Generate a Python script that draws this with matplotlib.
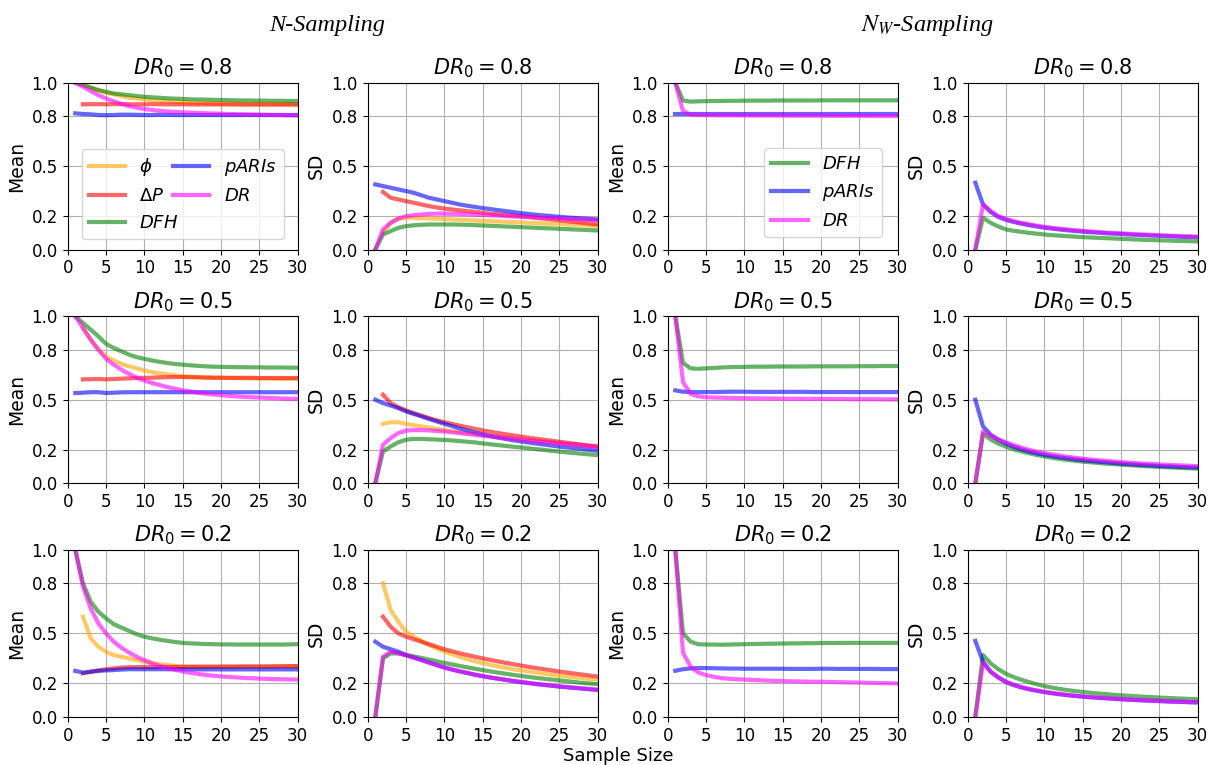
import numpy as np
import matplotlib
matplotlib.use("Agg")
import matplotlib.pyplot as plt

nan = np.nan
sample_size = list(range(1, 31))

# ---------------- N-Sampling ----------------
# DR0 = 0.8
n08_mean_phi = [nan, 0.99, 0.97, 0.955, 0.94, 0.93, 0.92, 0.91, 0.905, 0.90, 0.895, 0.89, 0.888, 0.885, 0.883,
                0.88, 0.879, 0.878, 0.877, 0.876, 0.875, 0.875, 0.874, 0.874, 0.873, 0.873, 0.872, 0.872, 0.872, 0.871]
n08_mean_dp = [nan, 0.87, 0.871, 0.871, 0.87, 0.871, 0.871, 0.87, 0.87, 0.87, 0.871, 0.87, 0.87, 0.87, 0.87,
               0.869, 0.869, 0.869, 0.869, 0.869, 0.869, 0.869, 0.868, 0.868, 0.868, 0.868, 0.868, 0.868, 0.868, 0.868]
n08_mean_dfh = [1.0, 0.985, 0.97, 0.955, 0.945, 0.935, 0.93, 0.925, 0.92, 0.915, 0.912, 0.909, 0.906, 0.904, 0.902,
                0.90, 0.899, 0.898, 0.897, 0.896, 0.895, 0.894, 0.893, 0.893, 0.892, 0.892, 0.891, 0.891, 0.890, 0.890]
n08_mean_paris = [0.816, 0.812, 0.81, 0.806, 0.805, 0.806, 0.808, 0.808, 0.807, 0.806, 0.806, 0.807, 0.807, 0.806, 0.806,
                  0.806, 0.806, 0.806, 0.806, 0.806, 0.806, 0.806, 0.806, 0.806, 0.806, 0.806, 0.806, 0.806, 0.806, 0.806]
n08_mean_dr = [1.0, 0.975, 0.95, 0.925, 0.905, 0.888, 0.873, 0.86, 0.85, 0.842, 0.836, 0.831, 0.827, 0.824, 0.822,
               0.82, 0.818, 0.816, 0.815, 0.814, 0.812, 0.811, 0.81, 0.809, 0.808, 0.807, 0.806, 0.805, 0.804, 0.803]

n08_sd_phi = [nan, 0.10, 0.16, 0.185, 0.19, 0.19, 0.188, 0.186, 0.184, 0.182, 0.18, 0.178, 0.176, 0.174, 0.172,
              0.17, 0.168, 0.166, 0.164, 0.162, 0.16, 0.158, 0.156, 0.154, 0.152, 0.15, 0.148, 0.146, 0.143, 0.14]
n08_sd_dp = [nan, 0.345, 0.31, 0.30, 0.29, 0.28, 0.27, 0.26, 0.252, 0.245, 0.24, 0.235, 0.23, 0.225, 0.22,
             0.215, 0.211, 0.207, 0.203, 0.20, 0.195, 0.19, 0.185, 0.18, 0.175, 0.17, 0.165, 0.16, 0.155, 0.15]
n08_sd_dfh = [0.0, 0.09, 0.11, 0.13, 0.14, 0.145, 0.148, 0.15, 0.15, 0.15, 0.15, 0.149, 0.148, 0.146, 0.144,
              0.142, 0.14, 0.138, 0.136, 0.134, 0.132, 0.13, 0.128, 0.126, 0.124, 0.122, 0.12, 0.118, 0.116, 0.114]
n08_sd_paris = [0.39, 0.38, 0.37, 0.36, 0.35, 0.34, 0.325, 0.31, 0.30, 0.29, 0.28, 0.27, 0.262, 0.255, 0.248,
                0.242, 0.236, 0.23, 0.224, 0.218, 0.213, 0.208, 0.204, 0.20, 0.196, 0.192, 0.189, 0.186, 0.183, 0.18]
n08_sd_dr = [0.0, 0.12, 0.16, 0.185, 0.20, 0.205, 0.21, 0.213, 0.215, 0.215, 0.214, 0.213, 0.211, 0.209, 0.207,
             0.205, 0.203, 0.20, 0.198, 0.196, 0.194, 0.192, 0.19, 0.188, 0.186, 0.184, 0.182, 0.18, 0.178, 0.176]

# DR0 = 0.5
n05_mean_phi = [nan, 0.93, 0.86, 0.80, 0.76, 0.735, 0.715, 0.70, 0.688, 0.675, 0.665, 0.658, 0.652, 0.646, 0.642,
                0.638, 0.635, 0.633, 0.632, 0.631, 0.63, 0.629, 0.628, 0.628, 0.627, 0.627, 0.626, 0.626, 0.625, 0.625]
n05_mean_dp = [nan, 0.622, 0.623, 0.624, 0.622, 0.624, 0.626, 0.628, 0.63, 0.631, 0.632, 0.634, 0.635, 0.636, 0.636,
               0.635, 0.634, 0.633, 0.632, 0.632, 0.631, 0.631, 0.631, 0.631, 0.63, 0.63, 0.63, 0.63, 0.63, 0.63]
n05_mean_dfh = [1.0, 0.96, 0.92, 0.88, 0.835, 0.81, 0.79, 0.77, 0.755, 0.745, 0.735, 0.727, 0.72, 0.714, 0.71,
                0.706, 0.703, 0.70, 0.698, 0.697, 0.696, 0.695, 0.695, 0.694, 0.694, 0.693, 0.693, 0.693, 0.692, 0.692]
n05_mean_paris = [0.54, 0.542, 0.545, 0.545, 0.54, 0.542, 0.544, 0.545, 0.545, 0.545, 0.545, 0.545, 0.545, 0.545, 0.545,
                  0.545, 0.545, 0.545, 0.545, 0.545, 0.545, 0.545, 0.545, 0.545, 0.545, 0.545, 0.545, 0.545, 0.545, 0.545]
n05_mean_dr = [1.0, 0.93, 0.86, 0.80, 0.745, 0.71, 0.68, 0.655, 0.632, 0.615, 0.60, 0.588, 0.576, 0.566, 0.557,
               0.549, 0.542, 0.536, 0.531, 0.527, 0.523, 0.52, 0.517, 0.515, 0.513, 0.511, 0.509, 0.507, 0.506, 0.505]

n05_sd_phi = [nan, 0.355, 0.365, 0.365, 0.355, 0.347, 0.34, 0.333, 0.326, 0.318, 0.312, 0.306, 0.3, 0.294, 0.288,
              0.283, 0.278, 0.273, 0.268, 0.263, 0.258, 0.253, 0.249, 0.245, 0.241, 0.237, 0.233, 0.229, 0.225, 0.222]
n05_sd_dp = [nan, 0.53, 0.48, 0.455, 0.436, 0.42, 0.405, 0.39, 0.377, 0.365, 0.355, 0.345, 0.335, 0.325, 0.316,
             0.308, 0.3, 0.293, 0.286, 0.279, 0.272, 0.266, 0.26, 0.254, 0.248, 0.242, 0.236, 0.23, 0.224, 0.218]
n05_sd_dfh = [0.0, 0.19, 0.22, 0.245, 0.26, 0.265, 0.265, 0.263, 0.261, 0.259, 0.256, 0.252, 0.248, 0.244, 0.238,
              0.233, 0.228, 0.223, 0.218, 0.214, 0.209, 0.204, 0.199, 0.194, 0.189, 0.184, 0.18, 0.176, 0.172, 0.168]
n05_sd_paris = [0.50, 0.48, 0.465, 0.45, 0.43, 0.415, 0.4, 0.385, 0.37, 0.356, 0.342, 0.328, 0.315, 0.303, 0.292,
                0.282, 0.273, 0.265, 0.257, 0.25, 0.243, 0.237, 0.231, 0.225, 0.219, 0.214, 0.209, 0.204, 0.199, 0.194]
n05_sd_dr = [0.0, 0.23, 0.27, 0.30, 0.315, 0.318, 0.318, 0.316, 0.313, 0.31, 0.305, 0.3, 0.295, 0.29, 0.285,
             0.28, 0.275, 0.27, 0.265, 0.26, 0.255, 0.25, 0.246, 0.242, 0.238, 0.234, 0.23, 0.226, 0.222, 0.218]

# DR0 = 0.2
n02_mean_phi = [nan, 0.60, 0.47, 0.42, 0.39, 0.37, 0.36, 0.35, 0.34, 0.33, 0.322, 0.315, 0.31, 0.305, 0.302,
                0.30, 0.30, 0.30, 0.30, 0.30, 0.30, 0.30, 0.30, 0.30, 0.30, 0.30, 0.30, 0.30, 0.30, 0.30]
n02_mean_dp = [nan, 0.26, 0.27, 0.278, 0.285, 0.29, 0.295, 0.297, 0.298, 0.298, 0.298, 0.298, 0.299, 0.299, 0.299,
               0.3, 0.3, 0.3, 0.3, 0.301, 0.301, 0.301, 0.302, 0.302, 0.302, 0.302, 0.303, 0.303, 0.304, 0.304]
n02_mean_dfh = [1.0, 0.80, 0.69, 0.63, 0.59, 0.555, 0.535, 0.515, 0.495, 0.48, 0.47, 0.462, 0.455, 0.448, 0.443,
                0.44, 0.438, 0.436, 0.435, 0.434, 0.434, 0.433, 0.433, 0.433, 0.433, 0.433, 0.433, 0.433, 0.434, 0.435]
n02_mean_paris = [0.275, 0.265, 0.27, 0.275, 0.278, 0.28, 0.283, 0.285, 0.285, 0.285, 0.285, 0.285, 0.285, 0.285, 0.284,
                  0.284, 0.284, 0.284, 0.284, 0.284, 0.284, 0.284, 0.284, 0.284, 0.284, 0.284, 0.284, 0.284, 0.284, 0.284]
n02_mean_dr = [1.0, 0.78, 0.65, 0.56, 0.50, 0.45, 0.415, 0.385, 0.36, 0.34, 0.32, 0.305, 0.292, 0.282, 0.272,
               0.264, 0.257, 0.251, 0.246, 0.242, 0.239, 0.236, 0.233, 0.231, 0.229, 0.227, 0.226, 0.225, 0.224, 0.223]

n02_sd_phi = [nan, 0.80, 0.64, 0.57, 0.51, 0.48, 0.455, 0.43, 0.41, 0.39, 0.375, 0.36, 0.345, 0.333, 0.322,
              0.312, 0.302, 0.293, 0.285, 0.278, 0.271, 0.264, 0.258, 0.252, 0.246, 0.241, 0.236, 0.231, 0.226, 0.221]
n02_sd_dp = [nan, 0.60, 0.54, 0.50, 0.48, 0.465, 0.45, 0.435, 0.42, 0.405, 0.393, 0.381, 0.37, 0.36, 0.35,
             0.341, 0.332, 0.323, 0.315, 0.307, 0.299, 0.292, 0.285, 0.278, 0.271, 0.265, 0.259, 0.253, 0.247, 0.241]
n02_sd_dfh = [0.0, 0.35, 0.38, 0.38, 0.37, 0.362, 0.353, 0.343, 0.333, 0.323, 0.314, 0.305, 0.296, 0.288, 0.28,
              0.272, 0.265, 0.258, 0.251, 0.245, 0.239, 0.233, 0.228, 0.223, 0.218, 0.213, 0.208, 0.203, 0.199, 0.195]
n02_sd_paris = [0.45, 0.42, 0.405, 0.39, 0.37, 0.355, 0.34, 0.325, 0.31, 0.295, 0.283, 0.272, 0.262, 0.252, 0.243,
                0.235, 0.228, 0.221, 0.214, 0.208, 0.202, 0.196, 0.191, 0.186, 0.181, 0.177, 0.173, 0.169, 0.165, 0.161]
n02_sd_dr = [0.0, 0.36, 0.39, 0.38, 0.37, 0.355, 0.34, 0.325, 0.31, 0.296, 0.284, 0.273, 0.263, 0.253, 0.244,
             0.236, 0.229, 0.222, 0.215, 0.209, 0.203, 0.197, 0.192, 0.187, 0.182, 0.178, 0.174, 0.17, 0.166, 0.162]

# ---------------- N_W-Sampling ----------------
w08_mean_dfh = [1.0, 0.893, 0.886, 0.888, 0.889, 0.89, 0.89, 0.891, 0.891, 0.892, 0.892, 0.892, 0.892, 0.893, 0.893,
                0.893, 0.893, 0.893, 0.893, 0.894, 0.894, 0.894, 0.894, 0.894, 0.894, 0.894, 0.894, 0.894, 0.894, 0.894]
w08_mean_paris = [0.812, 0.812, 0.812, 0.812, 0.812, 0.812, 0.812, 0.812, 0.812, 0.812, 0.812, 0.812, 0.812, 0.812, 0.812,
                  0.812, 0.812, 0.812, 0.812, 0.812, 0.812, 0.812, 0.812, 0.812, 0.812, 0.812, 0.812, 0.812, 0.812, 0.812]
w08_mean_dr = [1.0, 0.83, 0.808, 0.806, 0.805, 0.805, 0.804, 0.804, 0.804, 0.803, 0.803, 0.803, 0.803, 0.803, 0.802,
               0.802, 0.802, 0.802, 0.802, 0.802, 0.801, 0.801, 0.801, 0.801, 0.801, 0.8, 0.8, 0.8, 0.8, 0.8]

w08_sd_dfh = [0.0, 0.19, 0.16, 0.138, 0.12, 0.112, 0.106, 0.1, 0.095, 0.09, 0.086, 0.083, 0.08, 0.077, 0.074,
              0.072, 0.07, 0.068, 0.066, 0.064, 0.062, 0.06, 0.058, 0.057, 0.055, 0.054, 0.052, 0.051, 0.05, 0.048]
w08_sd_paris = [0.40, 0.27, 0.225, 0.195, 0.178, 0.165, 0.155, 0.146, 0.138, 0.131, 0.125, 0.12, 0.115, 0.111, 0.107,
                0.104, 0.101, 0.098, 0.095, 0.093, 0.09, 0.088, 0.086, 0.084, 0.082, 0.08, 0.078, 0.076, 0.075, 0.073]
w08_sd_dr = [0.0, 0.27, 0.23, 0.20, 0.183, 0.17, 0.16, 0.151, 0.143, 0.136, 0.13, 0.125, 0.12, 0.116, 0.112,
             0.108, 0.105, 0.102, 0.099, 0.097, 0.094, 0.092, 0.09, 0.088, 0.086, 0.084, 0.082, 0.08, 0.079, 0.077]

w05_mean_dfh = [1.0, 0.72, 0.688, 0.685, 0.688, 0.69, 0.693, 0.695, 0.696, 0.697, 0.698, 0.698, 0.698, 0.699, 0.699,
                0.699, 0.699, 0.699, 0.7, 0.7, 0.7, 0.7, 0.7, 0.7, 0.701, 0.701, 0.701, 0.702, 0.702, 0.702]
w05_mean_paris = [0.556, 0.548, 0.546, 0.545, 0.546, 0.546, 0.547, 0.548, 0.548, 0.548, 0.547, 0.547, 0.547, 0.547, 0.547,
                  0.547, 0.547, 0.547, 0.546, 0.546, 0.546, 0.546, 0.546, 0.546, 0.546, 0.546, 0.546, 0.546, 0.546, 0.546]
w05_mean_dr = [1.0, 0.606, 0.535, 0.52, 0.515, 0.513, 0.512, 0.511, 0.51, 0.509, 0.508, 0.508, 0.507, 0.507, 0.506,
               0.506, 0.506, 0.505, 0.505, 0.505, 0.504, 0.504, 0.504, 0.503, 0.503, 0.503, 0.503, 0.502, 0.502, 0.502]

w05_sd_dfh = [0.0, 0.295, 0.262, 0.237, 0.218, 0.203, 0.19, 0.179, 0.169, 0.16, 0.152, 0.145, 0.139, 0.134, 0.129,
              0.125, 0.121, 0.117, 0.114, 0.111, 0.108, 0.105, 0.102, 0.1, 0.097, 0.095, 0.093, 0.091, 0.089, 0.087]
w05_sd_paris = [0.50, 0.34, 0.29, 0.26, 0.237, 0.218, 0.203, 0.19, 0.179, 0.17, 0.162, 0.155, 0.149, 0.143, 0.138,
                0.133, 0.129, 0.125, 0.121, 0.117, 0.114, 0.111, 0.108, 0.106, 0.103, 0.101, 0.099, 0.097, 0.095, 0.093]
w05_sd_dr = [0.0, 0.31, 0.285, 0.262, 0.245, 0.228, 0.213, 0.2, 0.189, 0.18, 0.172, 0.165, 0.158, 0.152, 0.147,
             0.142, 0.138, 0.134, 0.13, 0.126, 0.123, 0.12, 0.117, 0.115, 0.112, 0.11, 0.108, 0.106, 0.104, 0.102]

w02_mean_dfh = [1.0, 0.50, 0.45, 0.435, 0.433, 0.433, 0.432, 0.433, 0.434, 0.435, 0.436, 0.437, 0.438, 0.438, 0.439,
                0.44, 0.44, 0.441, 0.441, 0.442, 0.442, 0.442, 0.443, 0.443, 0.443, 0.443, 0.443, 0.443, 0.443, 0.443]
w02_mean_paris = [0.276, 0.285, 0.29, 0.292, 0.292, 0.291, 0.29, 0.289, 0.289, 0.288, 0.288, 0.288, 0.288, 0.288, 0.288,
                  0.287, 0.287, 0.287, 0.287, 0.288, 0.288, 0.287, 0.287, 0.287, 0.287, 0.287, 0.287, 0.286, 0.286, 0.286]
w02_mean_dr = [1.0, 0.384, 0.30, 0.265, 0.25, 0.24, 0.232, 0.228, 0.225, 0.223, 0.221, 0.219, 0.217, 0.215, 0.214,
               0.213, 0.212, 0.211, 0.21, 0.21, 0.209, 0.208, 0.207, 0.206, 0.205, 0.204, 0.203, 0.202, 0.201, 0.20]

w02_sd_dfh = [0.0, 0.37, 0.32, 0.285, 0.258, 0.238, 0.222, 0.208, 0.195, 0.184, 0.175, 0.167, 0.16, 0.154, 0.149,
              0.144, 0.14, 0.136, 0.132, 0.129, 0.126, 0.123, 0.12, 0.118, 0.115, 0.113, 0.111, 0.109, 0.107, 0.105]
w02_sd_paris = [0.455, 0.33, 0.27, 0.235, 0.208, 0.19, 0.176, 0.165, 0.156, 0.148, 0.141, 0.135, 0.13, 0.125, 0.121,
                0.117, 0.114, 0.111, 0.108, 0.105, 0.102, 0.1, 0.098, 0.096, 0.094, 0.092, 0.09, 0.089, 0.087, 0.086]
w02_sd_dr = [0.0, 0.324, 0.27, 0.237, 0.21, 0.192, 0.178, 0.167, 0.158, 0.15, 0.143, 0.137, 0.131, 0.126, 0.122,
             0.118, 0.115, 0.112, 0.109, 0.106, 0.104, 0.101, 0.099, 0.097, 0.095, 0.093, 0.091, 0.09, 0.088, 0.087]

dr0_values = ["0.8", "0.5", "0.2"]
y_ticks = [0.0, 0.2, 0.5, 0.8, 1.0]

labels = {"phi": r"$\phi$", "dp": r"$\Delta P$", "dfh": r"$DFH$", "paris": r"$pARIs$", "dr": r"$DR$"}
colors = {"phi": "orange", "dp": "red", "dfh": "green", "paris": "blue", "dr": "magenta"}

n_panels = [
    ({"phi": n08_mean_phi, "dp": n08_mean_dp, "dfh": n08_mean_dfh, "paris": n08_mean_paris, "dr": n08_mean_dr},
     {"phi": n08_sd_phi, "dp": n08_sd_dp, "dfh": n08_sd_dfh, "paris": n08_sd_paris, "dr": n08_sd_dr}),
    ({"phi": n05_mean_phi, "dp": n05_mean_dp, "dfh": n05_mean_dfh, "paris": n05_mean_paris, "dr": n05_mean_dr},
     {"phi": n05_sd_phi, "dp": n05_sd_dp, "dfh": n05_sd_dfh, "paris": n05_sd_paris, "dr": n05_sd_dr}),
    ({"phi": n02_mean_phi, "dp": n02_mean_dp, "dfh": n02_mean_dfh, "paris": n02_mean_paris, "dr": n02_mean_dr},
     {"phi": n02_sd_phi, "dp": n02_sd_dp, "dfh": n02_sd_dfh, "paris": n02_sd_paris, "dr": n02_sd_dr}),
]
w_panels = [
    ({"dfh": w08_mean_dfh, "paris": w08_mean_paris, "dr": w08_mean_dr},
     {"dfh": w08_sd_dfh, "paris": w08_sd_paris, "dr": w08_sd_dr}),
    ({"dfh": w05_mean_dfh, "paris": w05_mean_paris, "dr": w05_mean_dr},
     {"dfh": w05_sd_dfh, "paris": w05_sd_paris, "dr": w05_sd_dr}),
    ({"dfh": w02_mean_dfh, "paris": w02_mean_paris, "dr": w02_mean_dr},
     {"dfh": w02_sd_dfh, "paris": w02_sd_paris, "dr": w02_sd_dr}),
]


def draw_panel(ax, series, ylabel, dr0):
    for key, vals in series.items():
        ax.plot(sample_size, vals, color=colors[key], alpha=0.6, linewidth=3, label=labels[key])
    ax.set_xlim(0, 30)
    ax.set_ylim(0, 1)
    ax.set_xticks(range(0, 31, 5))
    ax.set_yticks(y_ticks)
    ax.set_yticklabels(["%.1f" % t for t in y_ticks])
    ax.tick_params(labelsize=12)
    ax.grid(True)
    ax.set_ylabel(ylabel, fontsize=13.5)
    ax.set_title(r"$DR_0 = %s$" % dr0, fontsize=15)


fig, axes = plt.subplots(3, 4, figsize=(12.08, 7.65), dpi=100)
fig.subplots_adjust(left=0.056, right=0.9915, top=0.892, bottom=0.063, wspace=0.304, hspace=0.4)

for r in range(3):
    draw_panel(axes[r, 0], n_panels[r][0], "Mean", dr0_values[r])
    draw_panel(axes[r, 1], n_panels[r][1], "SD", dr0_values[r])
    draw_panel(axes[r, 2], w_panels[r][0], "Mean", dr0_values[r])
    draw_panel(axes[r, 3], w_panels[r][1], "SD", dr0_values[r])

axes[0, 0].legend(ncol=2, fontsize=13, loc="lower center", bbox_to_anchor=(0.5, 0.008),
                  handlelength=2.0, columnspacing=-0.3)
axes[0, 2].legend(fontsize=13, loc="lower right", bbox_to_anchor=(0.97, 0.018))

fig.text(0.271, 0.967, "N-Sampling", fontsize=17.5, style="italic", family="Liberation Serif",
         ha="center", va="center")
fig.text(0.768, 0.967, r"$N_W$-Sampling", fontsize=17.5, style="italic", family="Liberation Serif",
         math_fontfamily="stix", ha="center", va="center")
fig.text(0.5115, 0.012, "Sample Size", fontsize=13, ha="center", va="center")

fig.savefig("out.png", dpi=100)
